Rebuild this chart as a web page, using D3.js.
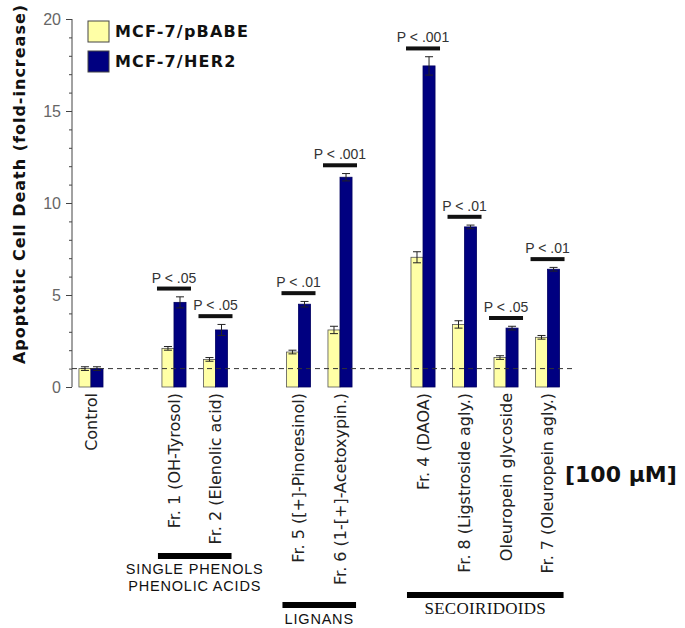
<!DOCTYPE html>
<html>
<head>
<meta charset="utf-8">
<script src="https://cdn.jsdelivr.net/npm/d3@7"></script>
<style>
  body { margin: 0; background: #fff; }
  svg { display: block; }
</style>
</head>
<body>
<svg id="chart" width="685" height="628"></svg>
<script>
// slots along the x axis; blank slots leave the gaps between compound classes
const slots = ['Control', 'gap1', 'Fr. 1 (OH-Tyrosol)', 'Fr. 2 (Elenolic acid)', 'gap2',
    'Fr. 5 ([+]-Pinoresinol)', 'Fr. 6 (1-[+]-Acetoxypin.)', 'gap3',
    'Fr. 4 (DAOA)', 'Fr. 8 (Ligstroside agly.)', 'Oleuropein glycoside', 'Fr. 7 (Oleuropein agly.)'];
const categories = slots.filter(s => !s.startsWith('gap'));
const seriesNames = ['MCF-7/pBABE', 'MCF-7/HER2'];
const pbabeValues = [1.0, 2.1, 1.5, 1.9, 3.1, 7.05, 3.4, 1.6, 2.7];
const pbabeErrors = [0.1, 0.1, 0.1, 0.1, 0.2, 0.3, 0.2, 0.1, 0.1];
const her2Values = [1.0, 4.6, 3.1, 4.5, 11.4, 17.45, 8.7, 3.2, 6.4];
const her2Errors = [0.1, 0.3, 0.3, 0.15, 0.2, 0.5, 0.1, 0.1, 0.1];
const pLabels = [null, 'P < .05', 'P < .05', 'P < .01', 'P < .001', 'P < .001', 'P < .01', 'P < .05', 'P < .01'];
const yTicks = [0, 5, 10, 15, 20];
const groups = [
    { from: 'Fr. 1 (OH-Tyrosol)', to: 'Fr. 2 (Elenolic acid)', lines: ['SINGLE PHENOLS', 'PHENOLIC ACIDS'], level: 0 },
    { from: 'Fr. 5 ([+]-Pinoresinol)', to: 'Fr. 6 (1-[+]-Acetoxypin.)', lines: ['LIGNANS'], level: 2 },
    { from: 'Fr. 4 (DAOA)', to: 'Fr. 7 (Oleuropein agly.)', lines: ['SECOIRIDOIDS'], level: 1, serif: true }
];

const colors = ['#ffffa6', '#000080'];
const svg = d3.select('#chart');

const x = d3.scaleBand().domain(slots).range([61.5, 577]).padding(0.42);
const xSub = d3.scaleBand().domain(seriesNames).range([0, x.bandwidth()]);
const y = d3.scaleLinear().domain([0, 20]).range([387, 19]);
const axisX = 72;

const data = categories.map((c, i) => ({
    category: c,
    p: pLabels[i],
    bars: [
        { series: seriesNames[0], value: pbabeValues[i], err: pbabeErrors[i] },
        { series: seriesNames[1], value: her2Values[i], err: her2Errors[i] }
    ]
}));

// Y axis: minor ticks every unit, major every 5
svg.append('g')
    .attr('transform', `translate(${axisX},0)`)
    .call(d3.axisLeft(y).ticks(20).tickSize(3).tickFormat(''))
    .call(g => g.select('.domain').remove())
    .selectAll('line').attr('stroke', '#444');

const yAxis = svg.append('g')
    .attr('transform', `translate(${axisX},0)`)
    .call(d3.axisLeft(y).tickValues(yTicks).tickSize(6).tickPadding(5));
yAxis.select('.domain').attr('stroke', '#444').attr('d', `M0,${y(20)}V${y(0)}`);
yAxis.selectAll('.tick line').attr('stroke', '#444');
yAxis.selectAll('.tick text')
    .style('font-family', '"Liberation Sans", Arial, sans-serif')
    .style('font-size', '16px')
    .style('fill', '#666');

svg.append('text')
    .attr('transform', `translate(19,184) rotate(-90)`)
    .attr('text-anchor', 'middle')
    .attr('dy', '0.35em')
    .style('font-family', '"DejaVu Sans", Verdana, sans-serif')
    .style('font-weight', 'bold')
    .style('font-size', '16px')
    .style('letter-spacing', '1px')
    .style('fill', '#111')
    .text('Apoptotic Cell Death (fold-increase)');

// Bars
const cat = svg.selectAll('.cat')
    .data(data)
    .enter().append('g')
    .attr('class', 'cat')
    .attr('transform', d => `translate(${x(d.category)},0)`);

cat.selectAll('rect')
    .data(d => d.bars)
    .enter().append('rect')
    .attr('x', d => xSub(d.series))
    .attr('y', d => y(d.value))
    .attr('width', xSub.bandwidth())
    .attr('height', d => y(0) - y(d.value))
    .attr('fill', (d, i) => colors[i])
    .attr('stroke', (d, i) => i === 0 ? '#555' : '#000060')
    .attr('stroke-width', 0.8);

// Error bars
const err = cat.selectAll('.err')
    .data(d => d.bars)
    .enter().append('g')
    .attr('class', 'err')
    .attr('transform', d => `translate(${xSub(d.series) + xSub.bandwidth() / 2},0)`);
err.append('line')
    .attr('y1', d => y(d.value - d.err)).attr('y2', d => y(d.value + d.err))
    .attr('stroke', '#222').attr('stroke-width', 1);
err.append('line')
    .attr('x1', -4).attr('x2', 4)
    .attr('y1', d => y(d.value + d.err)).attr('y2', d => y(d.value + d.err))
    .attr('stroke', '#222').attr('stroke-width', 1);
err.append('line')
    .attr('x1', -4).attr('x2', 4)
    .attr('y1', d => y(d.value - d.err)).attr('y2', d => y(d.value - d.err))
    .attr('stroke', '#222').attr('stroke-width', 1);

// Significance markers
const sig = cat.filter(d => d.p)
    .append('g')
    .attr('transform', d => {
        const h = d.bars[1];
        return `translate(${x.bandwidth() / 2},${y(h.value + h.err + 0.45)})`;
    });
sig.append('rect')
    .attr('x', -17).attr('y', -2)
    .attr('width', 34).attr('height', 4)
    .attr('fill', '#111');
sig.append('text')
    .attr('y', -6)
    .attr('text-anchor', 'middle')
    .style('font-family', '"Liberation Sans", Arial, sans-serif')
    .style('font-size', '14px')
    .style('fill', '#333')
    .text(d => d.p);

// Reference line at control level
svg.append('line')
    .attr('x1', axisX).attr('x2', 572)
    .attr('y1', y(1)).attr('y2', y(1))
    .attr('stroke', '#333')
    .attr('stroke-dasharray', '5,4');

// Category labels
svg.selectAll('.cat-label')
    .data(categories)
    .enter().append('text')
    .attr('class', 'cat-label')
    .attr('transform', d => `translate(${x(d) + x.bandwidth() / 2},393) rotate(-90)`)
    .attr('text-anchor', 'end')
    .attr('dy', '0.35em')
    .style('font-family', '"DejaVu Sans", Verdana, sans-serif')
    .style('font-size', '16px')
    .style('fill', '#222')
    .text(d => d);

// Class brackets
const levelY = [556, 595, 605];
const bracket = svg.selectAll('.bracket')
    .data(groups)
    .enter().append('g')
    .attr('class', 'bracket');
bracket.append('rect')
    .attr('x', d => x(d.from) - 4)
    .attr('y', d => levelY[d.level] - 3)
    .attr('width', d => x(d.to) + x.bandwidth() + 4 - (x(d.from) - 4))
    .attr('height', 6)
    .attr('fill', '#000');
bracket.each(function (d) {
    const cx = (x(d.from) + x(d.to) + x.bandwidth()) / 2;
    d3.select(this).selectAll('text')
        .data(d.lines)
        .enter().append('text')
        .attr('x', cx)
        .attr('y', (t, i) => levelY[d.level] + (d.lines.length > 1 ? 18 : 19) + i * 17)
        .attr('text-anchor', 'middle')
        .style('font-family', d.serif ? '"Liberation Serif", "Times New Roman", serif' : '"Liberation Sans", Arial, sans-serif')
        .style('font-size', d.serif ? '17px' : '14.5px')
        .style('letter-spacing', d.serif ? '0.3px' : '0.8px')
        .style('fill', '#111')
        .text(t => t);
});

// Concentration note
svg.append('text')
    .attr('x', 565).attr('y', 482)
    .style('font-family', '"DejaVu Sans", Verdana, sans-serif')
    .style('font-weight', 'bold')
    .style('font-size', '22px')
    .style('fill', '#111')
    .text('[100 \u03bcM]');

// Legend
const legend = svg.selectAll('.legend')
    .data(seriesNames)
    .enter().append('g')
    .attr('class', 'legend')
    .attr('transform', (d, i) => `translate(88,${21 + i * 30})`);
legend.append('rect')
    .attr('width', 21).attr('height', 21)
    .attr('fill', (d, i) => colors[i])
    .attr('stroke', '#444');
legend.append('text')
    .attr('x', 27).attr('y', 16)
    .style('font-family', '"DejaVu Sans", Verdana, sans-serif')
    .style('font-weight', 'bold')
    .style('font-size', '16px')
    .style('letter-spacing', '1.2px')
    .style('fill', '#111')
    .text(d => d);
</script>
</body>
</html>
